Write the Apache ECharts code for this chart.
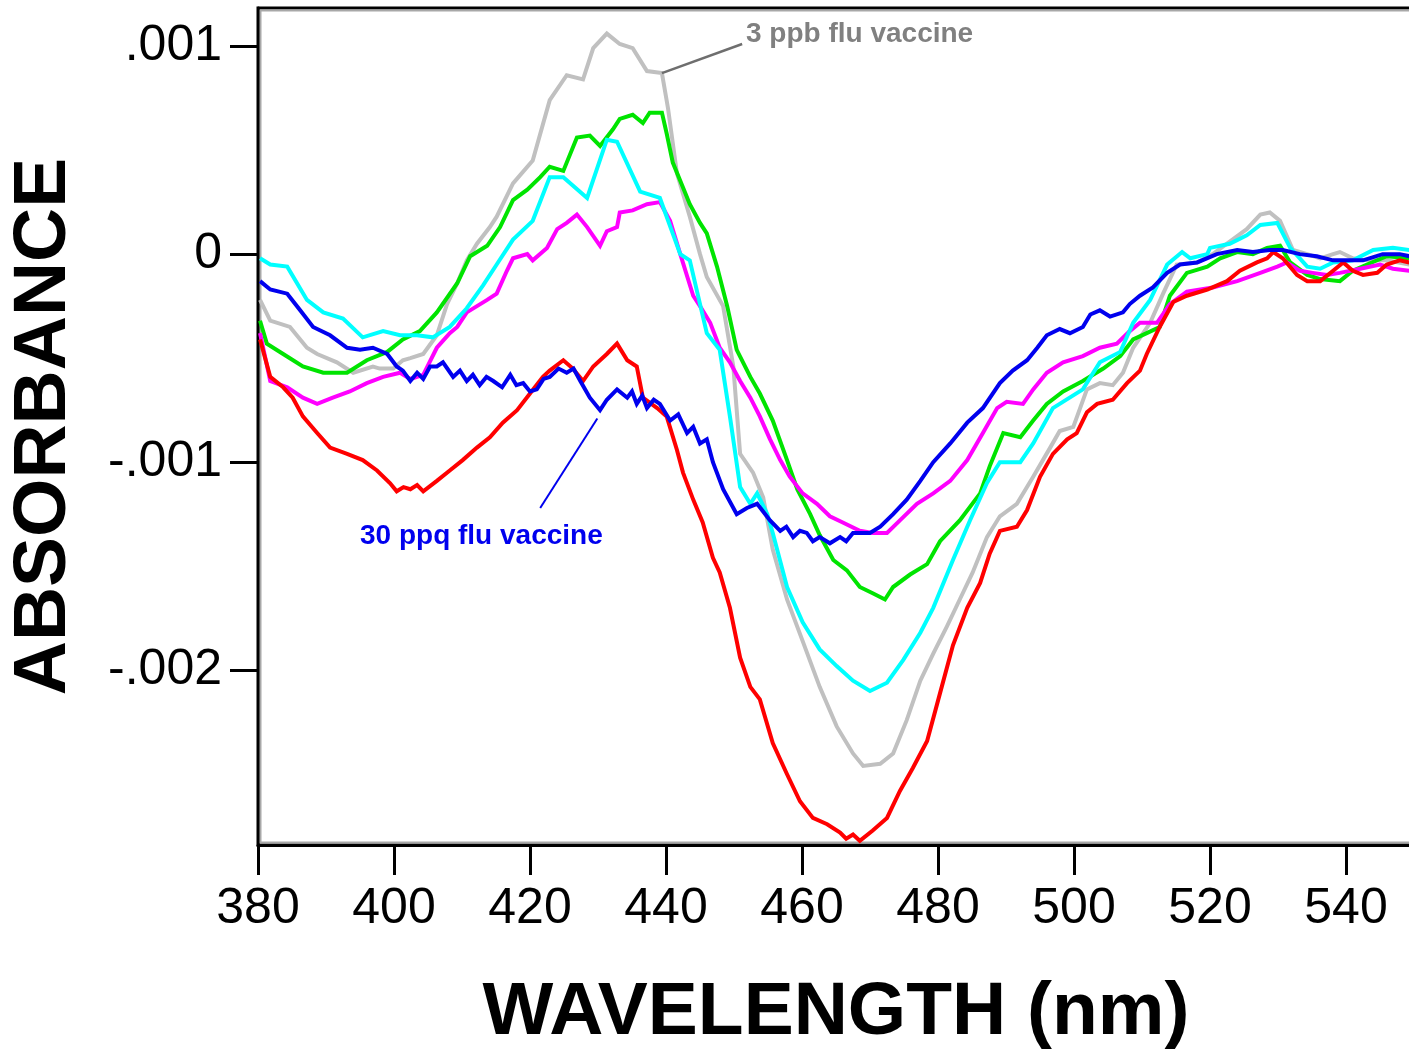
<!DOCTYPE html>
<html>
<head>
<meta charset="utf-8">
<script src="https://cdn.jsdelivr.net/npm/echarts@6/dist/echarts.min.js"></script>
<style>
html,body{margin:0;padding:0;background:#fff;}
#chart{width:1409px;height:1052px;}
</style>
</head>
<body>
<div id="chart"></div>
<script>
// Absorbance values are in units of 0.001 (tick label ".001" = 1)
const wavelengthTicks = [380, 400, 420, 440, 460, 480, 500, 520, 540];
const absTicks = [-2, -1, 0, 1];
const absTickLabels = ['-.002', '-.001', '0', '.001'];

const gray3ppb = [[380.3,-0.22],[381.8,-0.32],[384.7,-0.35],[387.2,-0.45],[388.7,-0.48],[391.6,-0.52],[394.0,-0.57],[396.9,-0.54],[397.9,-0.55],[399.9,-0.55],[401.3,-0.51],[402.4,-0.50],[404.3,-0.48],[406.3,-0.39],[407.8,-0.24],[409.3,-0.14],[410.7,-0.03],[412.2,0.05],[414.1,0.13],[415.1,0.18],[417.5,0.34],[420.4,0.45],[422.9,0.74],[425.4,0.86],[427.8,0.84],[429.3,0.99],[431.3,1.06],[433.2,1.01],[435.1,0.99],[437.2,0.88],[439.4,0.87],[440.3,0.70],[441.6,0.39],[443.5,0.18],[445.0,0.0],[446.0,-0.11],[448.4,-0.25],[449.9,-0.54],[450.9,-0.96],[452.8,-1.05],[454.3,-1.17],[455.7,-1.42],[457.8,-1.66],[460.1,-1.86],[462.6,-2.08],[465.1,-2.27],[467.5,-2.40],[469.0,-2.46],[471.5,-2.45],[473.4,-2.40],[475.4,-2.24],[477.4,-2.05],[479.3,-1.92],[481.3,-1.79],[483.2,-1.66],[485.1,-1.53],[487.2,-1.36],[489.1,-1.26],[491.6,-1.20],[494.0,-1.07],[496.5,-0.93],[497.9,-0.85],[499.9,-0.83],[501.9,-0.65],[503.8,-0.62],[505.7,-0.63],[507.2,-0.57],[508.7,-0.45],[511.2,-0.33],[513.1,-0.19],[515.1,-0.05],[518.1,-0.04],[520.4,0.0],[522.9,0.06],[525.4,0.12],[527.4,0.19],[528.8,0.20],[530.3,0.16],[532.2,0.02],[534.3,0.0],[536.2,-0.02],[538.1,0.0],[539.1,0.01],[541.0,-0.02],[543.1,-0.03],[546.0,-0.03],[549.3,-0.05]];

const green = [[380.3,-0.32],[381.3,-0.43],[383.7,-0.48],[386.6,-0.54],[389.6,-0.57],[393.1,-0.57],[396.0,-0.51],[399.0,-0.47],[401.3,-0.41],[403.8,-0.37],[406.3,-0.28],[409.3,-0.14],[411.2,-0.01],[413.7,0.04],[415.6,0.13],[417.5,0.26],[419.6,0.31],[421.5,0.37],[422.9,0.42],[424.9,0.40],[426.9,0.56],[428.8,0.57],[430.3,0.52],[432.2,0.60],[433.2,0.65],[435.1,0.67],[436.6,0.63],[437.6,0.68],[439.4,0.68],[440.1,0.58],[441.0,0.44],[442.5,0.32],[443.5,0.24],[445.0,0.15],[446.0,0.10],[447.5,-0.06],[449.0,-0.25],[450.4,-0.46],[452.4,-0.59],[453.8,-0.67],[455.7,-0.80],[457.8,-0.99],[459.3,-1.13],[461.2,-1.25],[462.6,-1.35],[464.6,-1.47],[466.6,-1.52],[468.5,-1.60],[470.4,-1.63],[472.2,-1.66],[473.4,-1.60],[475.9,-1.54],[478.4,-1.49],[480.3,-1.38],[483.2,-1.28],[486.2,-1.15],[487.6,-1.02],[489.6,-0.86],[492.1,-0.88],[494.0,-0.80],[496.0,-0.72],[498.4,-0.66],[501.3,-0.61],[504.3,-0.55],[506.8,-0.49],[508.7,-0.41],[510.7,-0.38],[512.6,-0.35],[514.1,-0.20],[516.6,-0.09],[519.6,-0.06],[521.5,-0.02],[524.0,0.01],[526.3,0.0],[528.4,0.03],[530.3,0.04],[531.8,-0.04],[534.3,-0.10],[536.2,-0.12],[539.1,-0.13],[541.0,-0.08],[543.1,-0.05],[546.0,-0.01],[549.3,-0.02]];

const cyan = [[380.3,-0.02],[381.8,-0.05],[384.3,-0.06],[387.2,-0.22],[389.6,-0.28],[392.5,-0.31],[395.4,-0.40],[398.4,-0.37],[400.9,-0.39],[403.4,-0.39],[405.7,-0.40],[408.2,-0.35],[410.7,-0.26],[413.1,-0.15],[415.1,-0.05],[417.5,0.07],[420.4,0.16],[422.9,0.37],[424.9,0.37],[428.4,0.27],[431.3,0.55],[432.8,0.54],[436.2,0.30],[439.1,0.27],[442.1,0.0],[443.5,-0.03],[446.0,-0.38],[447.9,-0.46],[449.4,-0.78],[450.9,-1.12],[452.4,-1.20],[453.4,-1.15],[454.9,-1.25],[455.7,-1.34],[457.8,-1.60],[460.1,-1.77],[462.6,-1.90],[465.1,-1.98],[467.5,-2.05],[470.0,-2.10],[472.5,-2.06],[474.9,-1.95],[477.4,-1.82],[479.3,-1.70],[482.2,-1.47],[484.7,-1.28],[487.2,-1.10],[489.1,-1.00],[492.1,-1.00],[494.0,-0.91],[496.9,-0.74],[501.3,-0.65],[503.8,-0.52],[506.8,-0.47],[508.7,-0.33],[511.2,-0.22],[513.7,-0.05],[515.9,0.01],[517.1,-0.02],[519.6,0.0],[520.0,0.03],[522.9,0.05],[525.4,0.09],[527.4,0.14],[529.9,0.15],[531.8,0.03],[534.3,-0.06],[536.2,-0.07],[538.1,-0.04],[541.0,-0.03],[544.0,0.02],[546.9,0.03],[549.3,0.02]];

const magenta = [[380.3,-0.38],[381.8,-0.61],[384.3,-0.64],[386.6,-0.69],[388.7,-0.72],[391.0,-0.69],[393.5,-0.66],[396.0,-0.62],[398.4,-0.59],[400.9,-0.57],[402.4,-0.60],[404.3,-0.58],[406.3,-0.45],[408.2,-0.38],[409.3,-0.35],[410.7,-0.28],[413.7,-0.22],[415.1,-0.19],[416.6,-0.08],[417.5,-0.02],[419.6,0.0],[420.4,-0.03],[422.5,0.03],[424.0,0.12],[425.4,0.15],[426.9,0.19],[428.4,0.13],[430.3,0.04],[431.3,0.11],[432.8,0.13],[433.2,0.20],[435.1,0.21],[437.2,0.24],[439.1,0.25],[440.6,0.16],[442.1,0.0],[444.0,-0.20],[445.0,-0.25],[446.5,-0.33],[447.9,-0.45],[449.4,-0.52],[450.9,-0.61],[452.4,-0.69],[453.8,-0.78],[455.3,-0.89],[456.8,-0.99],[458.2,-1.07],[460.1,-1.15],[462.2,-1.20],[464.1,-1.26],[466.0,-1.29],[468.5,-1.33],[470.4,-1.34],[472.5,-1.34],[474.4,-1.28],[476.9,-1.20],[479.3,-1.15],[481.8,-1.09],[484.3,-0.99],[486.6,-0.86],[488.7,-0.74],[490.1,-0.71],[492.5,-0.72],[494.0,-0.65],[496.0,-0.57],[498.4,-0.52],[501.3,-0.49],[503.8,-0.45],[506.3,-0.43],[508.2,-0.37],[509.7,-0.33],[512.2,-0.33],[514.1,-0.24],[516.6,-0.18],[520.4,-0.16],[524.0,-0.13],[527.4,-0.09],[529.9,-0.06],[531.3,-0.04],[533.2,-0.08],[535.1,-0.09],[537.2,-0.10],[539.1,-0.09],[542.1,-0.07],[545.0,-0.05],[546.9,-0.07],[549.3,-0.08]];

const blue30ppq = [[380.3,-0.13],[381.8,-0.17],[384.3,-0.19],[386.2,-0.27],[388.1,-0.35],[390.6,-0.39],[393.1,-0.45],[395.0,-0.46],[396.9,-0.45],[399.0,-0.48],[400.4,-0.54],[401.3,-0.56],[402.4,-0.61],[403.4,-0.57],[404.3,-0.60],[405.3,-0.54],[406.3,-0.54],[407.2,-0.52],[408.7,-0.59],[409.7,-0.56],[410.7,-0.61],[411.6,-0.58],[412.6,-0.63],[413.6,-0.59],[414.6,-0.61],[415.9,-0.64],[417.1,-0.58],[418.0,-0.63],[419.0,-0.62],[420.0,-0.66],[421.0,-0.65],[422.0,-0.60],[422.9,-0.59],[424.2,-0.55],[425.4,-0.57],[426.4,-0.55],[427.4,-0.61],[428.8,-0.69],[430.3,-0.75],[431.3,-0.70],[432.8,-0.65],[434.3,-0.69],[435.0,-0.66],[435.7,-0.72],[436.5,-0.68],[437.2,-0.74],[438.2,-0.70],[439.1,-0.72],[440.6,-0.80],[441.8,-0.77],[443.1,-0.86],[444.0,-0.83],[445.0,-0.91],[446.0,-0.89],[446.9,-1.00],[448.4,-1.13],[450.4,-1.25],[451.9,-1.22],[453.4,-1.20],[455.3,-1.28],[456.8,-1.33],[457.7,-1.31],[458.7,-1.36],[459.7,-1.33],[460.7,-1.34],[461.6,-1.38],[462.6,-1.36],[464.1,-1.39],[465.6,-1.36],[466.5,-1.38],[467.5,-1.34],[470.0,-1.34],[471.5,-1.31],[473.4,-1.25],[475.4,-1.18],[477.4,-1.09],[479.3,-1.00],[481.8,-0.91],[484.3,-0.81],[486.6,-0.74],[489.1,-0.62],[491.0,-0.56],[493.1,-0.51],[494.6,-0.45],[496.0,-0.39],[497.9,-0.36],[499.4,-0.38],[501.3,-0.35],[502.4,-0.29],[503.8,-0.27],[505.3,-0.30],[507.2,-0.28],[508.2,-0.24],[509.7,-0.20],[511.6,-0.16],[513.7,-0.09],[515.6,-0.05],[518.1,-0.04],[521.0,0.0],[524.0,0.02],[526.3,0.01],[528.8,0.02],[530.7,0.02],[533.2,0.0],[535.7,-0.01],[538.1,-0.03],[542.5,-0.03],[545.4,0.0],[547.9,0.0],[549.3,-0.01]];

const red = [[380.3,-0.41],[381.8,-0.59],[383.7,-0.64],[385.1,-0.69],[386.6,-0.78],[388.7,-0.86],[390.6,-0.93],[393.1,-0.96],[395.4,-0.99],[397.5,-1.04],[399.4,-1.10],[400.4,-1.14],[401.4,-1.12],[402.4,-1.13],[403.4,-1.11],[404.3,-1.14],[406.3,-1.09],[408.2,-1.04],[410.1,-0.99],[412.2,-0.93],[414.1,-0.88],[416.0,-0.81],[418.1,-0.75],[420.0,-0.67],[421.9,-0.59],[422.9,-0.56],[424.9,-0.51],[426.3,-0.55],[427.8,-0.61],[429.3,-0.54],[431.3,-0.48],[432.8,-0.43],[434.3,-0.51],[435.7,-0.54],[436.6,-0.69],[438.7,-0.74],[440.1,-0.78],[441.6,-0.94],[442.5,-1.05],[444.0,-1.18],[445.4,-1.29],[446.9,-1.46],[447.9,-1.53],[449.4,-1.70],[450.9,-1.94],[452.4,-2.08],[453.8,-2.14],[455.7,-2.35],[457.8,-2.50],[459.7,-2.63],[461.6,-2.71],[463.7,-2.74],[465.6,-2.78],[466.5,-2.81],[467.5,-2.79],[468.5,-2.82],[470.4,-2.77],[472.5,-2.71],[474.4,-2.58],[476.3,-2.47],[478.4,-2.34],[480.3,-2.11],[482.2,-1.88],[484.3,-1.70],[486.2,-1.58],[487.6,-1.44],[489.1,-1.33],[491.6,-1.31],[493.1,-1.23],[495.0,-1.07],[496.9,-0.96],[499.0,-0.89],[500.4,-0.86],[501.9,-0.76],[503.4,-0.72],[505.7,-0.70],[507.8,-0.62],[509.7,-0.56],[510.7,-0.48],[512.6,-0.35],[514.6,-0.23],[516.6,-0.20],[519.6,-0.17],[522.5,-0.13],[524.4,-0.08],[526.9,-0.04],[528.4,-0.02],[529.3,0.01],[530.7,-0.02],[532.8,-0.10],[534.3,-0.13],[536.2,-0.13],[538.1,-0.08],[539.6,-0.04],[541.0,-0.08],[542.5,-0.10],[544.6,-0.09],[546.0,-0.05],[547.9,-0.03],[549.3,-0.04]];

const labelGray = '3 ppb flu vaccine';
const labelBlue = '30 ppq flu vaccine';

const GL = 258, GT = 8, GW = 1156, GH = 837;
const chart = echarts.init(document.getElementById('chart'), null, {renderer: 'canvas'});
const FONT = '"Liberation Sans", Arial, sans-serif';

function lineSeries(name, data, color, z, extra) {
  return Object.assign({
    name: name, type: 'line', data: data, showSymbol: false, symbol: 'none',
    smooth: false, z: z, animation: false,
    lineStyle: {color: color, width: 4, cap: 'butt', join: 'miter'}
  }, extra || {});
}

const option = {
  backgroundColor: '#fff',
  animation: false,
  grid: {left: GL, top: GT, width: GW, height: GH, show: true, containLabel: false, outerBoundsMode: 'none',
    borderColor: '#000', borderWidth: 3, backgroundColor: 'transparent'},
  xAxis: {
    type: 'value', min: 380, max: 550,
    axisLine: {show: true, onZero: false, lineStyle: {color: '#000', width: 3}},
    axisTick: {show: true, inside: false, length: 30, lineStyle: {color: '#000', width: 3}, customValues: wavelengthTicks},
    axisLabel: {show: true, customValues: wavelengthTicks, fontSize: 50, color: '#000', fontFamily: FONT, margin: 39},
    splitLine: {show: false},
    name: 'WAVELENGTH (nm)', nameLocation: 'middle', nameGap: 131,
    nameTextStyle: {fontSize: 75, fontWeight: 'bold', color: '#000', fontFamily: FONT}
  },
  yAxis: {
    type: 'value', min: -2.84, max: 1.183,
    axisLine: {show: true, onZero: false, lineStyle: {color: '#000', width: 3}},
    axisTick: {show: true, inside: false, length: 28, lineStyle: {color: '#000', width: 3}, customValues: absTicks},
    axisLabel: {show: true, customValues: absTicks, fontSize: 50, color: '#000', fontFamily: FONT, margin: 36,
      formatter: function (v) { const i = absTicks.indexOf(Math.round(v)); return i >= 0 ? absTickLabels[i] : ''; }},
    splitLine: {show: false},
    name: 'ABSORBANCE', nameLocation: 'middle', nameGap: 176, nameRotate: 90,
    nameTextStyle: {fontSize: 75, fontWeight: 'bold', color: '#000', fontFamily: FONT}
  },
  series: [
    lineSeries('3 ppb', gray3ppb, '#c0c0c0', 2, {
      markLine: {silent: true, symbol: ['none', 'none'], animation: false, label: {show: false},
        lineStyle: {color: '#6e6e6e', width: 2.5, type: 'solid'},
        data: [[{coord: [439.4, 0.87]}, {coord: [451.2, 1.01]}]]}
    }),
    lineSeries('green', green, '#00e400', 3),
    lineSeries('cyan', cyan, '#00ffff', 4),
    lineSeries('magenta', magenta, '#ff00ff', 3),
    lineSeries('red', red, '#ff0000', 5),
    lineSeries('30 ppq', blue30ppq, '#0000ee', 6, {
      markLine: {silent: true, symbol: ['none', 'none'], animation: false, label: {show: false},
        lineStyle: {color: '#0000ee', width: 2, type: 'solid'},
        data: [[{coord: [429.9, -0.79]}, {coord: [421.5, -1.22]}]]}
    })
  ],
  graphic: [
    {type: 'rect', silent: true, z: 1, shape: {x: GL + 2.5, y: GT + 2.5, width: GW, height: GH - 5},
      style: {fill: 'none', stroke: '#a8a8a8', lineWidth: 2}},
    {type: 'text', left: 746, top: 20, silent: true, z: 10,
      style: {text: labelGray, fill: '#808080', font: 'bold 28px ' + FONT}},
    {type: 'text', left: 360, top: 522, silent: true, z: 10,
      style: {text: labelBlue, fill: '#0000ee', font: 'bold 28px ' + FONT}}
  ]
};
chart.setOption(option);
</script>
</body>
</html>
